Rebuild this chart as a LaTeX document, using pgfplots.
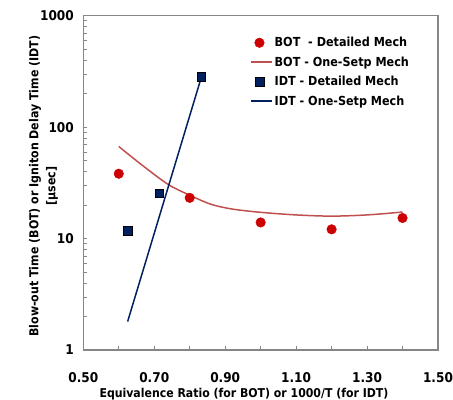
\documentclass[border=0pt]{standalone}
\usepackage{fontspec}
\setmainfont{DejaVu Sans Condensed}
\usepackage{pgfplots}
\pgfplotsset{compat=1.18}
\definecolor{botred}{RGB}{204,0,0}
\definecolor{botline}{RGB}{192,80,77}
\definecolor{idtblue}{RGB}{0,32,96}
\definecolor{axgray}{RGB}{134,134,134}
\begin{document}
\begin{tikzpicture}
\path[use as bounding box] (0,0) rectangle (453bp,400bp);
\begin{axis}[
  at={(83.3bp,50bp)}, anchor=south west,
  scale only axis, width=354.7bp, height=334.3bp,
  ymode=log, xmin=0.5, xmax=1.5, ymin=1, ymax=1000,
  axis line style={axgray, line width=1.4pt},
  tick style={axgray, line width=0.6pt},
  tick pos=left, tick align=inside,
  major tick length=4bp, minor tick length=4bp,
  xtick={0.5,0.7,0.9,1.1,1.3,1.5},
  xticklabels={0.50,0.70,0.90,1.10,1.30,1.50},
  minor xtick={0.6,0.8,1.0,1.2,1.4},
  ytick={1,10,100,1000},
  yticklabels={1,10,100,1000},
  ticklabel style={font=\bfseries\fontsize{13.5}{15}\selectfont, text=black},
  xticklabel style={yshift=-19bp},
  yticklabel style={xshift=-6bp},
  xlabel={Equivalence Ratio (for BOT) or 1000/T (for IDT)},
  xlabel style={font=\bfseries\fontsize{12.2}{14}\selectfont, at={(axis description cs:0.453,-0.131)}, anchor=center},
  ylabel={Blow-out Time (BOT) or Igniton Delay Time (IDT)\\{[µsec]}},
  ylabel style={font=\bfseries\fontsize{12.3}{17}\selectfont, align=center, at={(axis description cs:-0.112,0.49)}, anchor=center, rotate=0},
  legend style={at={(axis description cs:0.47,0.942)}, anchor=north west, draw=none, fill=none,
    font=\bfseries\fontsize{12.5}{14}\selectfont, row sep=4.5bp, inner sep=0pt},
  legend cell align=left,
]
\addplot[only marks, mark=*, mark size=4.8bp, color=botred, mark options={draw=botred, fill=botred}]
  coordinates {(0.6,38.2) (0.8,23.2) (1.0,13.95) (1.2,12.1) (1.4,15.3)};
\addlegendentry{BOT~ - Detailed Mech}
\addplot[smooth, color=botline, line width=1.5pt, no marks,
  legend image code/.code={\draw[botline, line width=1.5pt] (0bp,0bp) -- (21bp,0bp);}]
  coordinates {(0.6,67) (0.67,44.5) (0.74,30.5) (0.80,24.5) (0.86,20.3) (0.92,18.4) (1.0,17.2) (1.1,16.3) (1.2,15.9) (1.3,16.3) (1.4,17.3)};
\addlegendentry{BOT - One-Setp Mech}
\addplot[only marks, mark=square*, mark size=4.3bp, color=idtblue, mark options={draw=black, fill=idtblue, line width=0.5pt}]
  coordinates {(0.625,11.75) (0.714,25.6) (0.833,282)};
\addlegendentry{IDT - Detailed Mech}
\addplot[color=idtblue, line width=1.5pt, no marks,
  legend image code/.code={\draw[idtblue, line width=1.5pt] (0bp,0bp) -- (21bp,0bp);}]
  coordinates {(0.625,1.8) (0.833,282)};
\addlegendentry{IDT - One-Setp Mech}
\end{axis}
\end{tikzpicture}
\end{document}
